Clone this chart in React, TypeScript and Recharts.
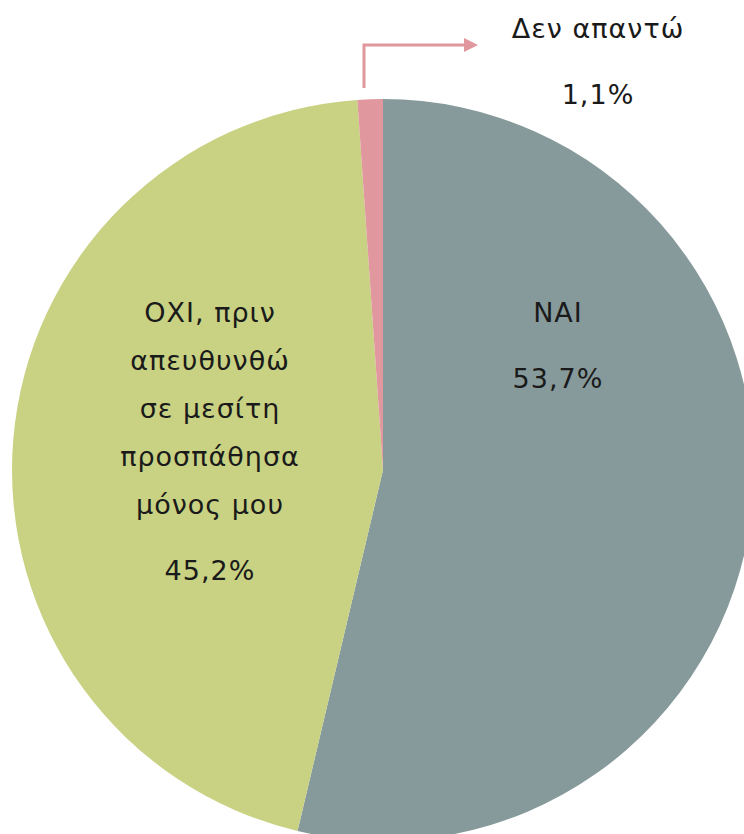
import { PieChart, Pie, Cell } from 'recharts'

const categories = ['ΝΑΙ', 'ΟΧΙ, πριν απευθυνθώ σε μεσίτη προσπάθησα μόνος μου', 'Δεν απαντώ']
const values = [53.7, 45.2, 1.1]
const percentLabels = ['53,7%', '45,2%', '1,1%']
const labelLines = [
  ['ΝΑΙ'],
  ['ΟΧΙ, πριν', 'απευθυνθώ', 'σε μεσίτη', 'προσπάθησα', 'μόνος μου'],
  ['Δεν απαντώ'],
]
const colors = ['#879a9b', '#c8d282', '#e0979d']

const data = categories.map((name, i) => ({ name, value: values[i] }))

const FONT = '"DejaVu Sans", sans-serif'

// label placement relative to pie centre, chosen to match the original layout
const labelOffsets = [
  { dx: 175, dy: -158 },
  { dx: -173, dy: -158 },
  { dx: 215, dy: -442 },
]

function renderLabel(props: any) {
  const { cx, cy, index } = props
  const off = labelOffsets[index]
  const x = cx + off.dx
  const y = cy + off.dy
  const lines = labelLines[index]
  const lineGap = 48
  const pctY = y + (lines.length - 1) * lineGap + 66
  const textProps = {
    textAnchor: 'middle' as const,
    dominantBaseline: 'central' as const,
    fill: '#1a1a1a',
    fontFamily: FONT,
    fontSize: 27,
    letterSpacing: 1,
  }
  return (
    <g key={'lbl' + index}>
      {lines.map((t, j) => (
        <text key={j} x={x} y={y + j * lineGap} {...textProps}>
          {t}
        </text>
      ))}
      <text x={x} y={pctY} {...textProps}>
        {percentLabels[index]}
      </text>
      {index === 2 && (
        <g>
          <polyline
            points={`${cx - 19},${cy - 382} ${cx - 19},${cy - 425} ${cx + 82},${cy - 425}`}
            fill="none"
            stroke={colors[2]}
            strokeWidth={3}
          />
          <polygon
            points={`${cx + 81},${cy - 432} ${cx + 95},${cy - 425} ${cx + 81},${cy - 418}`}
            fill={colors[2]}
          />
        </g>
      )}
    </g>
  )
}

export default function App() {
  return (
    <div style={{ position: 'absolute', left: 0, top: 0, width: 744, height: 834, background: '#fff' }}>
      <PieChart width={744} height={834} margin={{ top: 0, right: 0, bottom: 0, left: 0 }}>
        <Pie
          data={data}
          dataKey="value"
          nameKey="name"
          cx={383}
          cy={470}
          outerRadius={371}
          startAngle={90}
          endAngle={-270}
          stroke="none"
          label={renderLabel}
          labelLine={false}
          isAnimationActive={false}
        >
          {data.map((d, i) => (
            <Cell key={d.name} fill={colors[i]} />
          ))}
        </Pie>
      </PieChart>
    </div>
  )
}
